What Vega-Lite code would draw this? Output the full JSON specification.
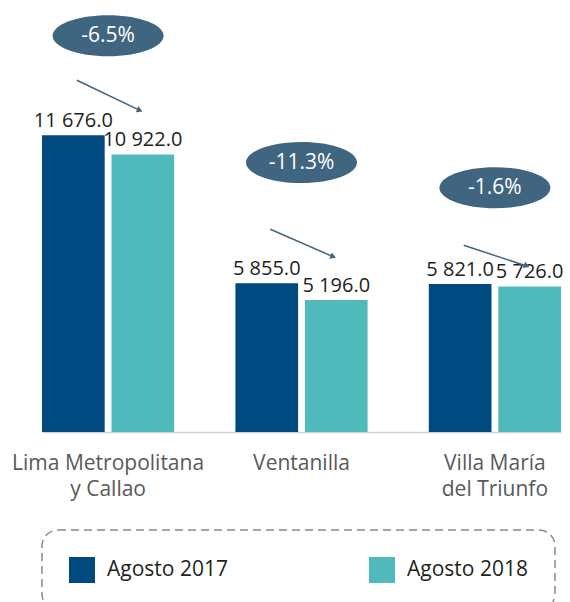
{
  "$schema": "https://vega.github.io/schema/vega-lite/v6.json",
  "width": 519,
  "height": 432,
  "autosize": {"type": "none"},
  "padding": {"left": 42, "top": 0, "right": 9, "bottom": 170},
  "background": "white",
  "config": {
    "view": {"stroke": null},
    "font": "Open Sans",
    "locale": {"number": {"decimal": ".", "thousands": " ", "grouping": [3], "currency": ["", ""]}},
    "axisX": {
      "labelAngle": 0, "ticks": false, "grid": false,
      "domainColor": "#d4d4d4", "domainWidth": 1.5,
      "labelFont": "Open Sans", "labelFontSize": 21, "labelColor": "#595959",
      "labelPadding": 20, "labelLineHeight": 26, "labelLimit": 300,
      "labelExpr": "datum.value == 'Lima Metropolitana y Callao' ? ['Lima Metropolitana', 'y Callao'] : datum.value == 'Villa María del Triunfo' ? ['Villa María', 'del Triunfo'] : datum.value"
    }
  },
  "datasets": {
    "barras": [
      {"zona": "Lima Metropolitana y Callao", "periodo": "Agosto 2017", "valor": 11676},
      {"zona": "Lima Metropolitana y Callao", "periodo": "Agosto 2018", "valor": 10922},
      {"zona": "Ventanilla", "periodo": "Agosto 2017", "valor": 5855},
      {"zona": "Ventanilla", "periodo": "Agosto 2018", "valor": 5196},
      {"zona": "Villa María del Triunfo", "periodo": "Agosto 2017", "valor": 5821},
      {"zona": "Villa María del Triunfo", "periodo": "Agosto 2018", "valor": 5726}
    ],
    "cambios": [
      {"zona": "Lima Metropolitana y Callao", "variacion": "-6.5%", "globo": 15591, "desde": 13840, "hasta": 12659},
      {"zona": "Ventanilla", "variacion": "-11.3%", "globo": 10605, "desde": 7977, "hasta": 6898},
      {"zona": "Villa María del Triunfo", "variacion": "-1.6%", "globo": 9610, "desde": 7347, "hasta": 6532}
    ]
  },
  "layer": [
    {
      "data": {"name": "barras"},
      "mark": {"type": "bar"},
      "encoding": {
        "x": {
          "field": "zona", "type": "nominal", "title": null,
          "scale": {"domain": ["Lima Metropolitana y Callao", "Ventanilla", "Villa María del Triunfo"], "paddingInner": 0.3165, "paddingOuter": 0}
        },
        "xOffset": {"field": "periodo", "type": "nominal", "scale": {"paddingInner": 0.098, "paddingOuter": 0}},
        "y": {"field": "valor", "type": "quantitative", "scale": {"domain": [0, 17000], "nice": false}, "axis": null},
        "color": {
          "field": "periodo", "type": "nominal",
          "scale": {"domain": ["Agosto 2017", "Agosto 2018"], "range": ["#004a80", "#4fb9bc"]},
          "legend": {
            "title": null, "orient": "none", "legendX": 0, "legendY": 530,
            "direction": "horizontal",
            "strokeColor": "#8a8a8a", "cornerRadius": 16, "padding": 27,
            "symbolType": "square", "symbolSize": 676, "symbolStrokeWidth": 0,
            "labelFont": "Open Sans", "labelFontSize": 21, "labelColor": "#231f20", "labelOffset": 12,
            "columnPadding": 141,
            "encoding": {"legend": {"strokeDash": {"value": [8, 5]}, "strokeWidth": {"value": 1.5}}}
          }
        }
      }
    },
    {
      "data": {"name": "barras"},
      "mark": {"type": "text", "baseline": "alphabetic", "dy": -8, "fontSize": 20, "color": "#231f20", "font": "Open Sans"},
      "encoding": {
        "x": {"field": "zona", "type": "nominal", "title": null},
        "xOffset": {"field": "periodo", "type": "nominal"},
        "y": {"field": "valor", "type": "quantitative"},
        "text": {"field": "valor", "type": "quantitative", "format": ",.1f"}
      }
    },
    {
      "data": {"name": "cambios"},
      "mark": {"type": "rule", "color": "#3f6580", "strokeWidth": 1.5},
      "encoding": {
        "x": {"field": "zona", "type": "nominal", "bandPosition": 0.264, "title": null},
        "x2": {"field": "zona", "bandPosition": 0.74},
        "y": {"field": "desde", "type": "quantitative"},
        "y2": {"field": "hasta"}
      }
    },
    {
      "data": {"name": "cambios"},
      "mark": {"type": "point", "shape": "triangle-right", "filled": true, "opacity": 1, "size": 45, "angle": 22, "color": "#3f6580"},
      "encoding": {
        "x": {"field": "zona", "type": "nominal", "bandPosition": 0.74, "title": null},
        "y": {"field": "hasta", "type": "quantitative"}
      }
    },
    {
      "data": {"name": "cambios"},
      "mark": {"type": "point", "shape": "M -1 0 A 1 0.37 0 1 0 1 0 A 1 0.37 0 1 0 -1 0 Z", "filled": true, "opacity": 1, "size": 12321, "color": "#3f6580", "strokeWidth": 0},
      "encoding": {
        "x": {"field": "zona", "type": "nominal", "title": null},
        "y": {"field": "globo", "type": "quantitative"}
      }
    },
    {
      "data": {"name": "cambios"},
      "mark": {"type": "text", "baseline": "middle", "fontSize": 21, "color": "white", "font": "Open Sans"},
      "encoding": {
        "x": {"field": "zona", "type": "nominal", "title": null},
        "y": {"field": "globo", "type": "quantitative"},
        "text": {"field": "variacion"}
      }
    }
  ]
}
